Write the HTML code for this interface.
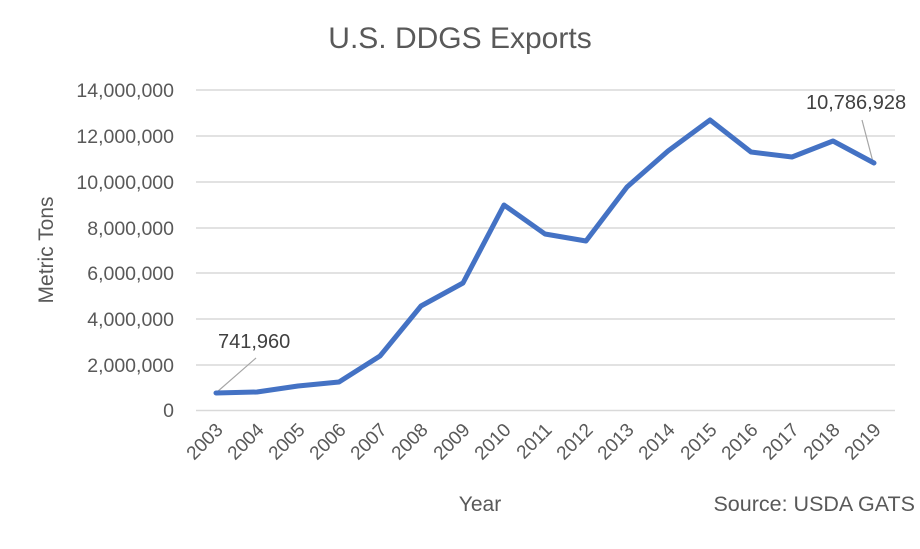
<!DOCTYPE html>
<html><head><meta charset="utf-8"><style>
html,body{margin:0;padding:0;background:#fff}
svg text{font-family:"Liberation Sans",sans-serif;fill:#595959}
</style></head><body>
<svg width="920" height="544" viewBox="0 0 920 544" xmlns="http://www.w3.org/2000/svg">
<text x="460" y="48" font-size="30" text-anchor="middle">U.S. DDGS Exports</text>
<g stroke="#d9d9d9" stroke-width="1.5">
<line x1="196" x2="895" y1="90" y2="90"/>
<line x1="196" x2="895" y1="136" y2="136"/>
<line x1="196" x2="895" y1="182" y2="182"/>
<line x1="196" x2="895" y1="228" y2="228"/>
<line x1="196" x2="895" y1="273" y2="273"/>
<line x1="196" x2="895" y1="319" y2="319"/>
<line x1="196" x2="895" y1="365" y2="365"/>
<line x1="196" x2="895" y1="410.5" y2="410.5"/>
</g>
<g font-size="19.5" text-anchor="end">
<text x="174" y="97">14,000,000</text>
<text x="174" y="143">12,000,000</text>
<text x="174" y="189">10,000,000</text>
<text x="174" y="235">8,000,000</text>
<text x="174" y="280">6,000,000</text>
<text x="174" y="326">4,000,000</text>
<text x="174" y="372">2,000,000</text>
<text x="174" y="417">0</text>
</g>
<text transform="translate(53,250) rotate(-90)" font-size="21" text-anchor="middle">Metric Tons</text>
<g font-size="19" text-anchor="end">
<text transform="translate(224,431) rotate(-45)">2003</text>
<text transform="translate(265,431) rotate(-45)">2004</text>
<text transform="translate(306,431) rotate(-45)">2005</text>
<text transform="translate(347,431) rotate(-45)">2006</text>
<text transform="translate(388,431) rotate(-45)">2007</text>
<text transform="translate(429,431) rotate(-45)">2008</text>
<text transform="translate(471,431) rotate(-45)">2009</text>
<text transform="translate(512,431) rotate(-45)">2010</text>
<text transform="translate(553,431) rotate(-45)">2011</text>
<text transform="translate(594,431) rotate(-45)">2012</text>
<text transform="translate(635,431) rotate(-45)">2013</text>
<text transform="translate(676,431) rotate(-45)">2014</text>
<text transform="translate(718,431) rotate(-45)">2015</text>
<text transform="translate(759,431) rotate(-45)">2016</text>
<text transform="translate(800,431) rotate(-45)">2017</text>
<text transform="translate(841,431) rotate(-45)">2018</text>
<text transform="translate(882,431) rotate(-45)">2019</text>
</g>
<text x="480" y="511" font-size="21" text-anchor="middle">Year</text>
<text x="915" y="511" font-size="21.5" text-anchor="end">Source: USDA GATS</text>
<line x1="217" y1="392" x2="256" y2="358" stroke="#a6a6a6" stroke-width="1.2"/>
<line x1="873" y1="162" x2="862" y2="120" stroke="#a6a6a6" stroke-width="1.2"/>
<text x="218" y="348" font-size="20" style="fill:#404040">741,960</text>
<text x="806" y="109" font-size="20" style="fill:#404040">10,786,928</text>
<polyline fill="none" stroke="#4472c4" stroke-width="5" stroke-linejoin="round" stroke-linecap="round"
points="216,393 257,392 298,386 339,382 380,356 421,306 463,283 504,205 545,234 586,241 627,187 668,151 710,120 751,152 792,157 833,141 874,163"/>
</svg>
</body></html>
